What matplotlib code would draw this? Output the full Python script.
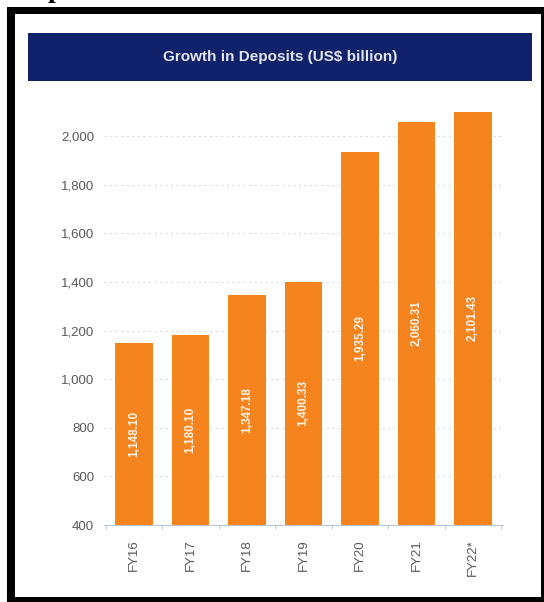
import matplotlib
matplotlib.use('Agg')
import matplotlib.pyplot as plt
from matplotlib.patches import Rectangle

plt.rcParams['font.family'] = ['Liberation Sans', 'DejaVu Sans']

# 연도별 예금 규모 (US$ billion)
years = ['FY16', 'FY17', 'FY18', 'FY19', 'FY20', 'FY21', 'FY22*']
deposits = [1148.10, 1180.10, 1347.18, 1400.33, 1935.29, 2060.31, 2101.43]
y_ticks = [400, 600, 800, 1000, 1200, 1400, 1600, 1800, 2000]

COLORS = {
    'bar': '#F5841F',
    'banner': '#10226A',
    'banner_text': '#E4E6F4',
    'tick': '#595959',
    'grid': '#D9DDE3',
    'axis': '#B8C7D9',
}

W, H = 544, 602
fig = plt.figure(figsize=(W / 100, H / 100), dpi=100)
fig.patch.set_facecolor('white')

# 바깥 검은 테두리와 안쪽 흰 영역
fig.patches.append(Rectangle((7 / W, 0), 1, (H - 7) / H, transform=fig.transFigure,
                             facecolor='black', edgecolor='none', zorder=0))
fig.patches.append(Rectangle((15 / W, 5 / H), (541 - 15) / W, (597 - 14) / H,
                             transform=fig.transFigure, facecolor='white',
                             edgecolor='none', zorder=1))

# 위쪽 문단에서 잘린 글자
fig.text(48 / W, 1.0 + 3 / H, 'p', fontsize=20, fontweight='bold',
         family=['Liberation Serif'], va='baseline', ha='left', color='black')

# 제목 배너
fig.patches.append(Rectangle((28 / W, (H - 81) / H), (532 - 28) / W, 48 / H,
                             transform=fig.transFigure, facecolor=COLORS['banner'],
                             edgecolor='none', zorder=2))
fig.text(280 / W, (H - 57) / H, 'Growth in Deposits (US$ billion)', fontsize=11,
         fontweight='bold', color=COLORS['banner_text'], ha='center', va='center',
         zorder=3)

ax = fig.add_axes([104 / W, (H - 525) / H, (503 - 104) / W, (525 - 107) / H])
ax.set_facecolor('none')
ax.set_zorder(5)

x = range(len(years))
bars = ax.bar(x, deposits, width=0.67, bottom=0, color=COLORS['bar'], zorder=3)

ymin, ymax = 400, 2120
ax.set_ylim(ymin, ymax)
ax.set_xlim(-0.53, len(years) - 0.47)

# 막대 안쪽 값 라벨 (세로)
for xi, v in zip(x, deposits):
    ax.text(xi, (ymin + v) / 2, f'{v:,.2f}', rotation=90, ha='center', va='center',
            fontsize=8.5, fontweight='bold', color='#FFF3E6', zorder=4)

ax.set_yticks(y_ticks)
ax.set_yticklabels([f'{t:,}' for t in y_ticks], fontsize=9.5, color=COLORS['tick'])
ax.set_xticks(list(x))
ax.set_xticklabels(years, rotation=90, fontsize=9.5, color=COLORS['tick'])

ax.yaxis.grid(True, linestyle=(0, (2, 3)), color=COLORS['grid'], linewidth=0.8, zorder=0)
ax.tick_params(axis='y', length=0, pad=7)
ax.tick_params(axis='x', length=0, pad=10)

# 카테고리 경계 눈금
ax.set_xticks([i + 0.5 for i in range(-1, len(years))], minor=True)
ax.tick_params(axis='x', which='minor', length=3, color=COLORS['axis'])

for spine in ['top', 'right', 'left']:
    ax.spines[spine].set_visible(False)
ax.spines['bottom'].set_color(COLORS['axis'])
ax.spines['bottom'].set_linewidth(0.8)

fig.savefig('out.png', dpi=100)
